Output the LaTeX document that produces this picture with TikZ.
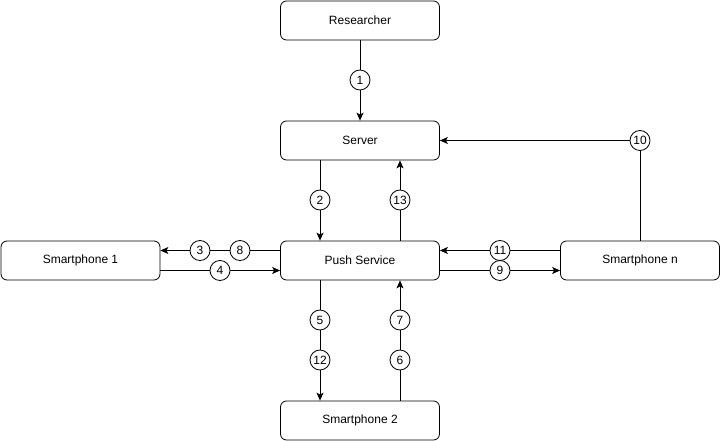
\documentclass[tikz,border=0pt]{standalone}
\usepackage{fontspec}
\setmainfont{Liberation Sans}
\usetikzlibrary{arrows.meta}
\begin{document}
\begin{tikzpicture}[x=1pt,y=-1pt,
  box/.style={draw,rounded corners=6pt,minimum width=159pt,minimum height=39pt,inner sep=0pt,font=\fontsize{12}{14}\selectfont,line width=0.8pt},
  num/.style={draw,fill=white,circle,minimum size=20pt,inner sep=0pt,font=\fontsize{12}{14}\selectfont,line width=0.8pt},
  conn/.style={line width=0.8pt,-{Stealth[length=8pt,width=7pt,inset=2pt]}}]
\useasboundingbox (0,0) rectangle (721,441);
\node[box] (res) at (360,20.5) {Researcher};
\node[box] (srv) at (360,140.5) {Server};
\node[box] (push) at (360,260.5) {Push Service};
\node[box] (s1) at (80.5,260.5) {Smartphone 1};
\node[box] (sn) at (640,260.5) {Smartphone n};
\node[box] (s2) at (360,420.5) {Smartphone 2};
% 1
\draw[conn] (res.south) -- (srv.north);
\node[num] (n1) at (360,80) {1};
% 2 and 13
\draw[conn] ([xshift=-40pt]srv.south) -- ([xshift=-40pt]push.north);
\node[num] (n2) at (320,200) {2};
\draw[conn] ([xshift=40pt]push.north) -- ([xshift=40pt]srv.south);
\node[num] (n13) at (400,200) {13};
% 3/8 and 4
\draw[conn] ([yshift=10pt]push.west) -- ([yshift=10pt]s1.east);
\node[num] (n3) at (200,250.5) {3};
\node[num] (n8) at (240,250.5) {8};
\draw[conn] ([yshift=-10pt]s1.east) -- ([yshift=-10pt]push.west);
\node[num] (n4) at (220,270.5) {4};
% 11 and 9
\draw[conn] ([yshift=10pt]sn.west) -- ([yshift=10pt]push.east);
\node[num] (n11) at (500,250.5) {11};
\draw[conn] ([yshift=-10pt]push.east) -- ([yshift=-10pt]sn.west);
\node[num] (n9) at (500,270.5) {9};
% 10
\draw[conn] (sn.north) |- (srv.east);
\node[num] (n10) at (640,140.5) {10};
% 5/12 and 7/6
\draw[conn] ([xshift=-40pt]push.south) -- ([xshift=-40pt]s2.north);
\node[num] (n5) at (320,320) {5};
\node[num] (n12) at (320,360) {12};
\draw[conn] ([xshift=40pt]s2.north) -- ([xshift=40pt]push.south);
\node[num] (n7) at (400,320) {7};
\node[num] (n6) at (400,360) {6};
\end{tikzpicture}
\end{document}
